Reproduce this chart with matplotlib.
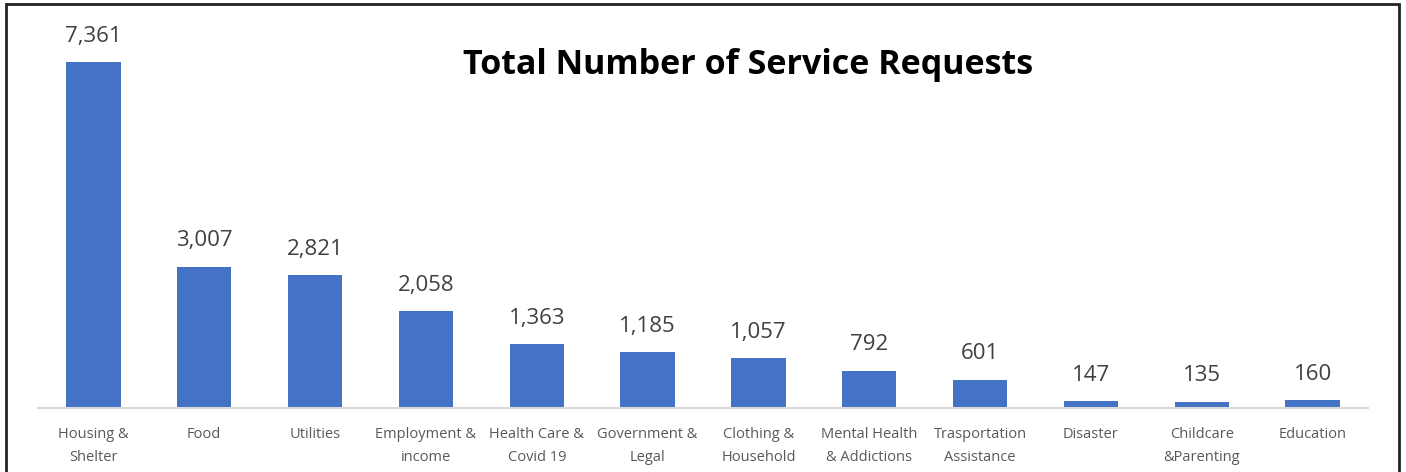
import matplotlib.pyplot as plt
from matplotlib.patches import Rectangle

categories = ["Housing &\nShelter", "Food", "Utilities", "Employment &\nincome",
              "Health Care &\nCovid 19", "Government &\nLegal", "Clothing &\nHousehold",
              "Mental Health\n& Addictions", "Trasportation\nAssistance", "Disaster",
              "Childcare\n&Parenting", "Education"]
requests = [7361, 3007, 2821, 2058, 1363, 1185, 1057, 792, 601, 147, 135, 160]

plt.rcParams['font.family'] = ['Open Sans', 'DejaVu Sans']

fig = plt.figure(figsize=(14.06, 4.72), dpi=100)
ax = fig.add_axes([38 / 1406, 64 / 472, 1330 / 1406, 376 / 472])

x = range(len(categories))
bars = ax.bar(x, requests, width=0.49, color="#4472C4")
ax.set_xlim(-0.5, len(categories) - 0.5)
ax.set_ylim(0, 8000)

# value labels above each bar
for rect, val in zip(bars, requests):
    ax.annotate(f"{val:,}", (rect.get_x() + rect.get_width() / 2, val),
                xytext=(0, 11), textcoords="offset points",
                ha="center", va="bottom", fontsize=16, color="#404040")

ax.set_xticks(list(x))
ax.set_xticklabels(categories, fontsize=10.5, color="#595959", linespacing=1.7)
ax.tick_params(axis="x", length=0, pad=14)
ax.set_yticks([])
for side in ["top", "right", "left"]:
    ax.spines[side].set_visible(False)
ax.spines["bottom"].set_color("#D9D9D9")
ax.spines["bottom"].set_linewidth(1.5)

fig.text(748 / 1406, 1 - 65 / 472, "Total Number of Service Requests",
         ha="center", va="center", fontsize=24.5, fontweight="bold", color="black")

# chart frame
fig.patches.append(Rectangle((6 / 1406, -0.1), 1393 / 1406, 1.1 - 4 / 472,
                             transform=fig.transFigure, fill=False,
                             edgecolor="#222222", linewidth=2))

fig.savefig("out.png", dpi=100)
